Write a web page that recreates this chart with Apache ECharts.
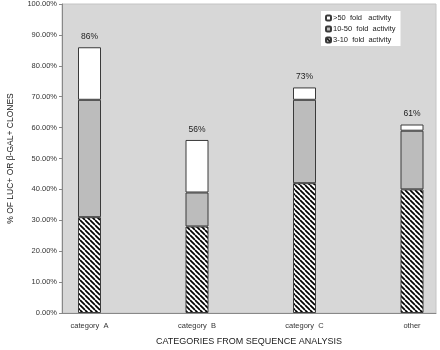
<!DOCTYPE html>
<html>
<head>
<meta charset="utf-8">
<script src="https://cdn.jsdelivr.net/npm/echarts@6/dist/echarts.min.js"></script>
<style>
  html, body { margin: 0; padding: 0; background: #fff; }
  #chart-container { width: 440px; height: 350px; }
</style>
</head>
<body>
<div id="chart-container"></div>
<script>
let categories = ["category  A", "category  B", "category  C", "other"];
let lowFold = [31, 28, 42, 40];      // 3-10 fold
let midFold = [38, 11, 27, 19];      // 10-50 fold
let highFold = [17, 17, 4, 2];       // >50 fold
let totals = [86, 56, 73, 61];

// hatch pattern for the 3-10 fold part
let hatch = document.createElement("canvas");
hatch.width = 5;
hatch.height = 5;
let hc = hatch.getContext("2d");
hc.fillStyle = "#fff";
hc.fillRect(0, 0, 5, 5);
hc.strokeStyle = "#000";
hc.lineWidth = 1.7;
hc.beginPath();
for (let k = -5; k <= 10; k += 5) {
    hc.moveTo(k, 0);
    hc.lineTo(k + 5, 5);
}
hc.stroke();

let dom = document.getElementById("chart-container");
let myChart = echarts.init(dom, null, { renderer: "canvas" });

let barStyle = { borderColor: "#3a3a3a", borderWidth: 1 };
let font = "Liberation Sans";

let option = {
    backgroundColor: "#fff",
    textStyle: { fontFamily: font },
    // grid 0: shaded plot frame with the y axis; grid 1: bars (wider bands)
    grid: [
        {
            left: 62, right: 4, top: 4, bottom: 37,
            outerBoundsMode: "none",
            show: true,
            backgroundColor: "#d7d7d7",
            borderColor: "#c4c4c4",
            borderWidth: 1,
        },
        { left: 35.75, width: 430, top: 4, bottom: 37, outerBoundsMode: "none" },
    ],
    legend: {
        orient: "vertical",
        left: 321,
        top: 11,
        backgroundColor: "#fff",
        padding: [3, 5, 2, 4],
        itemWidth: 5,
        itemHeight: 5,
        itemGap: 3,
        textStyle: { fontSize: 7.5, color: "#222", fontFamily: font, padding: [0, 0, 0, -3] },
        data: [">50  fold   activity", "10-50  fold  activity", "3-10  fold  activity"],
    },
    xAxis: [
        {
            gridIndex: 0,
            type: "category",
            data: categories,
            name: "CATEGORIES FROM SEQUENCE ANALYSIS",
            nameLocation: "middle",
            nameGap: 24,
            nameTextStyle: { fontSize: 9, color: "#222", fontFamily: font },
            axisLine: { show: true, lineStyle: { color: "#888" } },
            axisTick: { show: false },
            axisLabel: { show: false },
            splitLine: { show: false },
        },
        {
            gridIndex: 1,
            type: "category",
            data: categories,
            axisLine: { show: false },
            axisTick: { show: false },
            splitLine: { show: false },
            axisLabel: { fontSize: 7.5, color: "#333", margin: 9, interval: 0 },
        },
    ],
    yAxis: [
        {
            gridIndex: 0,
            type: "value",
            min: 0,
            max: 100,
            interval: 10,
            name: "% OF LUC+ OR β-GAL+ CLONES",
            nameLocation: "middle",
            nameGap: 47,
            nameTextStyle: { fontSize: 8.5, color: "#222", fontFamily: font },
            axisLine: { show: true, lineStyle: { color: "#888" } },
            axisTick: { show: true, length: 3, lineStyle: { color: "#888" } },
            splitLine: { show: false },
            axisLabel: {
                formatter: (v) => v.toFixed(2) + "%",
                fontSize: 7.5,
                color: "#333",
                margin: 5,
            },
        },
        {
            gridIndex: 1,
            type: "value",
            min: 0,
            max: 100,
            show: false,
        },
    ],
    series: [
        {
            name: "3-10  fold  activity",
            type: "bar",
            xAxisIndex: 1,
            yAxisIndex: 1,
            stack: "all",
            barWidth: 23,
            data: lowFold,
            itemStyle: Object.assign({ color: { image: hatch, repeat: "repeat" } }, barStyle),
        },
        {
            name: "10-50  fold  activity",
            type: "bar",
            xAxisIndex: 1,
            yAxisIndex: 1,
            stack: "all",
            barWidth: 23,
            data: midFold,
            itemStyle: Object.assign({ color: "#bcbcbc" }, barStyle),
        },
        {
            name: ">50  fold   activity",
            type: "bar",
            xAxisIndex: 1,
            yAxisIndex: 1,
            stack: "all",
            barWidth: 23,
            data: highFold,
            itemStyle: Object.assign({ color: "#ffffff" }, barStyle),
            label: {
                show: true,
                position: "top",
                distance: 6,
                fontSize: 8.5,
                color: "#222",
                formatter: (p) => totals[p.dataIndex] + "%",
            },
        },
    ],
};

myChart.setOption(option);
window.addEventListener("resize", myChart.resize);
</script>
</body>
</html>
